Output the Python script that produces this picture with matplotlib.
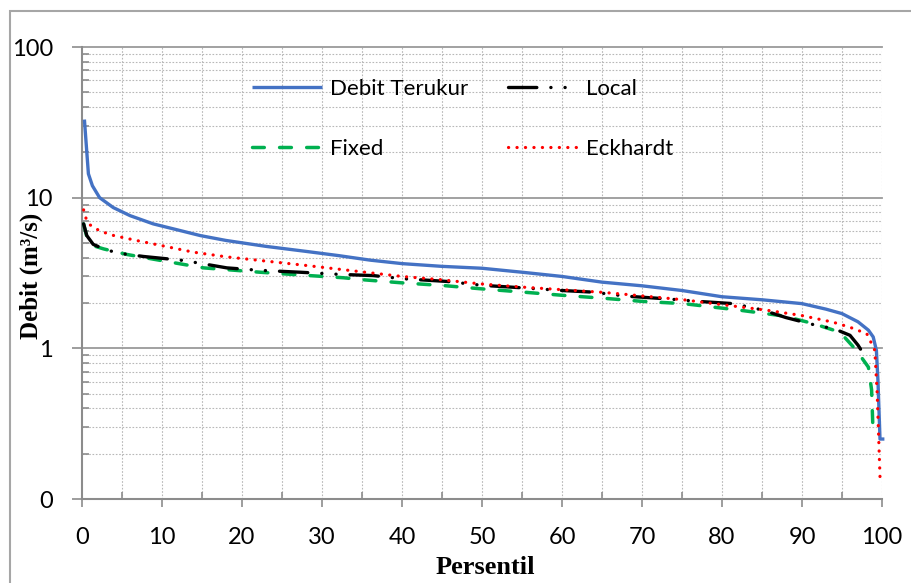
import matplotlib
matplotlib.use("Agg")
import matplotlib.pyplot as plt
from matplotlib.ticker import FixedLocator, NullFormatter, FixedFormatter
from matplotlib.lines import Line2D
from matplotlib.patches import Rectangle

# Flow duration curves: discharge (m3/s) against exceedance percentile
terukur_p = [0.3, 0.8, 1.3, 2.2, 3.9, 6, 8.9, 12, 14.8, 18, 23, 28, 32, 36, 40, 45,
             50, 55, 60, 65, 70, 75, 80, 85, 90, 93, 95, 97, 98.3, 98.9, 99.3, 99.5,
             99.75, 100.3]
terukur_q = [33, 14.4, 12, 10.0, 8.6, 7.6, 6.7, 6.1, 5.6, 5.2, 4.75, 4.4, 4.13, 3.85,
             3.65, 3.5, 3.4, 3.2, 3.0, 2.75, 2.6, 2.42, 2.2, 2.1, 1.98, 1.82, 1.7, 1.5,
             1.32, 1.19, 0.97, 0.6, 0.25, 0.25]

local_p = [0.2, 0.6, 1.4, 3, 5, 7.7, 12.7, 18.1, 22, 27.25, 32, 36.4, 40, 45.6, 50,
           55.6, 60, 63.9, 68, 73.1, 77, 81.4, 85, 88, 91.8, 94, 96, 97, 98.1]
local_q = [6.7, 5.6, 4.9, 4.5, 4.25, 4.07, 3.83, 3.42, 3.3, 3.2, 3.1, 3.04, 2.9, 2.78,
           2.62, 2.51, 2.42, 2.36, 2.22, 2.13, 2.05, 1.98, 1.8, 1.6, 1.42, 1.35, 1.22,
           1.05, 0.85]

fixed_p = [0.2, 0.6, 1.4, 2.7, 5.6, 9, 12.25, 15.2, 22.25, 28, 32.7, 35.2, 40, 45.2,
           50, 55.2, 60, 65.2, 70, 75.2, 82.25, 87.7, 91.4, 94.75, 96.8, 98.3, 98.7,
           98.9]
fixed_q = [6.7, 5.5, 4.8, 4.57, 4.2, 3.9, 3.64, 3.42, 3.2, 3.05, 2.94, 2.85, 2.72,
           2.61, 2.48, 2.36, 2.25, 2.15, 2.05, 1.98, 1.79, 1.64, 1.46, 1.28, 0.97,
           0.75, 0.53, 0.26]

eck_p = [0.2, 0.5, 1, 2.25, 4, 6.8, 10, 13.9, 18, 22.25, 28, 34.3, 40, 45, 49.75, 55,
         60, 64.75, 67.25, 75.2, 80, 85.6, 90, 93.9, 96, 98.1, 99.1, 99.4, 99.75]
eck_q = [8.3, 7.3, 6.6, 6.0, 5.6, 5.2, 4.8, 4.35, 4.05, 3.83, 3.55, 3.25, 3.0, 2.85,
         2.68, 2.55, 2.45, 2.36, 2.3, 2.1, 1.95, 1.79, 1.65, 1.49, 1.38, 1.25, 0.97,
         0.5, 0.14]

series_labels = ["Debit Terukur", "Fixed", "Local", "Eckhardt"]
x_ticks = [0, 10, 20, 30, 40, 50, 60, 70, 80, 90, 100]
y_ticks = [0.1, 1, 10, 100]
y_tick_labels = ["0", "1", "10", "100"]

tick_font = "Lato"
label_font = "Liberation Serif"

# line styles per series
sty_terukur = dict(color="#4472C4", lw=2.4, solid_capstyle="butt")
sty_local = dict(color="black", lw=2.4, ls=(0, (8.5, 4.2, 0.05, 4.2, 0.05, 4.2)),
                 dash_capstyle="round")
sty_fixed = dict(color="#00B050", lw=2.5, ls=(0, (3.4, 4.4)), dash_capstyle="round")
sty_eck = dict(color="#FF0000", lw=2.3, ls=(0, (0.05, 2.6)), dash_capstyle="round")

fig = plt.figure(figsize=(9.11, 5.83), dpi=100)
fig.patch.set_facecolor("white")
# outer chart frame
fig.patches.append(Rectangle((10 / 911, -0.05), 1.0, 1 - 11 / 583 + 0.05,
                             transform=fig.transFigure, fill=False,
                             edgecolor="#a6a6a6", linewidth=1.5))

ax = fig.add_axes([82 / 911, 1 - 499 / 583, 800 / 911, 452 / 583])
ax.set_facecolor("none")
ax.set_yscale("log")
ax.set_xlim(0, 100)
ax.set_ylim(0.1, 100)

grid_c = "#b8b8b8"
# vertical grid every 5
for xv in range(5, 101, 5):
    ax.axvline(xv, color=grid_c, lw=0.8, ls=(0, (1.5, 1.5)), zorder=0)
# horizontal grid
for dec in [0.1, 1, 10]:
    for k in range(2, 10):
        ax.axhline(dec * k, color=grid_c, lw=0.8, ls=(0, (1.5, 1.5)), zorder=0)
for yv in [1, 10, 100]:
    ax.axhline(yv, color="#9a9a9a", lw=1.3, zorder=0.5, clip_on=False)

ax.plot(terukur_p, terukur_q, zorder=3, clip_on=False, **sty_terukur)
ax.plot(local_p, local_q, zorder=4, **sty_local)
ax.plot(fixed_p, fixed_q, zorder=3.5, **sty_fixed)
ax.plot(eck_p, eck_q, zorder=5, **sty_eck)

for s in ["top", "right"]:
    ax.spines[s].set_visible(False)
for s in ["left", "bottom"]:
    ax.spines[s].set_color("#8c8c8c")
    ax.spines[s].set_linewidth(1.5)

ax.xaxis.set_major_locator(FixedLocator(x_ticks))
ax.xaxis.set_minor_locator(FixedLocator([v + 5 for v in x_ticks[:-1]]))
ax.yaxis.set_major_locator(FixedLocator(y_ticks))
ax.yaxis.set_major_formatter(FixedFormatter(y_tick_labels))
minor_y = [d * k for d in [0.1, 1, 10] for k in range(2, 10)]
ax.yaxis.set_minor_locator(FixedLocator(minor_y))
ax.yaxis.set_minor_formatter(NullFormatter())

ax.tick_params(axis="x", which="major", direction="out", length=6, width=1.2,
               color="#8c8c8c", pad=14, labelsize=17)
ax.tick_params(axis="x", which="minor", direction="in", length=5, width=1.2,
               color="#8c8c8c")
ax.tick_params(axis="y", which="major", direction="out", length=7, width=1.2,
               color="#8c8c8c", pad=14, labelsize=17)
ax.tick_params(axis="y", which="minor", direction="in", length=5, width=1.2,
               color="#8c8c8c")
for lab in ax.get_xticklabels() + ax.get_yticklabels():
    lab.set_fontfamily(tick_font)

fig.text(485 / 911, 1 - 568 / 583, "Persentil", fontfamily=label_font,
         fontweight="bold", fontsize=19, ha="center", va="center")
fig.text(31 / 911, 1 - 276 / 583, "Debit (m³/s)", fontfamily=label_font,
         fontweight="bold", fontsize=18, ha="center", va="center", rotation=90)

handles = [Line2D([], [], **sty_terukur), Line2D([], [], **sty_fixed),
           Line2D([], [], **sty_local), Line2D([], [], **sty_eck)]
leg = ax.legend(handles, series_labels, ncol=2, frameon=False, loc="upper left",
                bbox_to_anchor=(0.199, 0.954), borderpad=0, handlelength=3.15,
                handletextpad=0.35, columnspacing=1.8, labelspacing=1.8,
                prop={"family": tick_font, "size": 16})

fig.savefig("out.png", dpi=100)
